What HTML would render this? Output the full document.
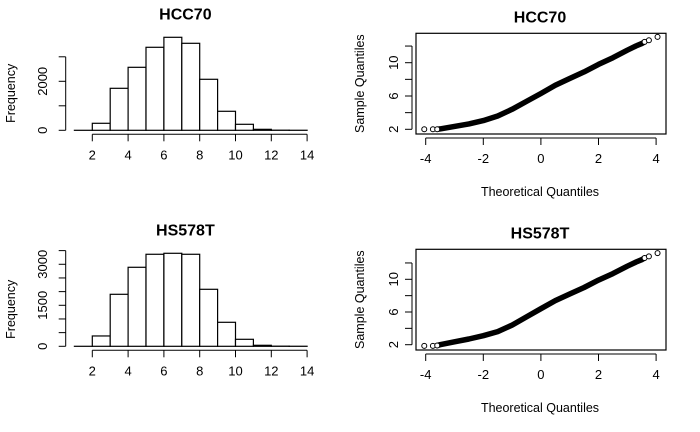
<!DOCTYPE html>
<html><head><meta charset="utf-8"><style>
body{margin:0;background:#fff}
svg{display:block;font-family:"Liberation Sans",Arial,sans-serif}
</style></head><body>
<svg id="c" width="700" height="432" viewBox="0 0 700 432"></svg>
<script>
// ---- data ----
const binEdges = [1,2,3,4,5,6,7,8,9,10,11,12,13,14];
const hccCounts = [0,286,1714,2571,3388,3796,3551,2082,776,245,40,5,2];
const hsCounts = [0,378,1902,2890,3366,3402,3366,2085,878,256,37,5,2];
const histXTicks = [2,4,6,8,10,12,14];
const hccYTicks = [0,1000,2000,3000];
const hccYLabels = [0,2000];
const hsYTicks = [0,500,1000,1500,2000,2500,3000,3500];
const hsYLabels = [0,1500,3000];
const qqTheo = [-4.05,-3.75,-3.6,-3.5,-3.0,-2.5,-2.0,-1.5,-1.0,-0.5,0,0.5,1.0,1.5,2.0,2.5,3.0,3.3,3.5,3.6,3.75,4.05];
const hccSample = [2.0,2.0,2.0,2.05,2.35,2.65,3.05,3.6,4.4,5.35,6.3,7.3,8.1,8.9,9.8,10.6,11.5,12.0,12.3,12.5,12.7,13.1];
const hsSample = [1.85,1.85,1.9,2.0,2.35,2.7,3.1,3.6,4.4,5.4,6.4,7.4,8.2,9.0,9.9,10.7,11.6,12.1,12.4,12.6,12.8,13.2];
const qqXTicks = [-4,-2,0,2,4];
const qqYTicks = [2,4,6,8,10,12];
const qqYLabels = [2,6,10];

const NS="http://www.w3.org/2000/svg";
const svg=document.getElementById('c');
function el(t,a,p){const e=document.createElementNS(NS,t);for(const k in a)e.setAttribute(k,a[k]);(p||svg).appendChild(e);return e;}
function txt(s,a,p){const e=el('text',a,p);e.textContent=s;return e;}

function hist(g,title,counts,yTicks,yLabels,y0,ySlope){
  const X=v=>92.3+(v-2)*17.9;
  const Y=v=>y0-v*ySlope;
  const t=txt(title,{x:X(7.2),y:y0-111,'font-size':16,'font-weight':'bold','text-anchor':'middle'},g);
  
  
  for(let i=0;i<counts.length;i++){
    const h=Math.max(0.01,Y(0)-Y(counts[i]));
    const r=el('rect',{x:X(binEdges[i]),y:Y(0)-h,width:X(binEdges[i+1])-X(binEdges[i]),height:h,fill:'#fff',stroke:'#000','stroke-width':1.2},g);
    
    
  }
  const xa=el('g',{},g);
  
  
  const ay=y0+4;
  el('line',{x1:X(histXTicks[0]),x2:X(histXTicks[histXTicks.length-1]),y1:ay,y2:ay,stroke:'#000'},xa);
  histXTicks.forEach(v=>{el('line',{x1:X(v),x2:X(v),y1:ay,y2:ay+7,stroke:'#000'},xa);
    txt(String(v),{x:X(v),y:ay+25,'font-size':13,'text-anchor':'middle'},xa);});
  const ya=el('g',{},g);
  
  
  const ax=65.7;
  el('line',{x1:ax,x2:ax,y1:Y(yTicks[0]),y2:Y(yTicks[yTicks.length-1]),stroke:'#000'},ya);
  yTicks.forEach(v=>el('line',{x1:ax,x2:ax-7,y1:Y(v),y2:Y(v),stroke:'#000'},ya));
  yLabels.forEach(v=>txt(String(v),{x:0,y:0,'font-size':13,'text-anchor':'middle',transform:`translate(47,${Y(v)}) rotate(-90)`},ya));
  const yl=txt('Frequency',{x:0,y:0,'font-size':12.5,'text-anchor':'middle',transform:`translate(15,${y0-37}) rotate(-90)`},g);
  
  
}

function qq(g,title,sample,top,bot,y2,y10){
  const X=v=>425.7+(v+4)*28.8;
  const sl=(y2-y10)/8;
  const Y=v=>y2-(v-2)*sl;
  const t=txt(title,{x:540,y:top-11,'font-size':16,'font-weight':'bold','text-anchor':'middle'},g);
  
  
  const box=el('rect',{x:416,y:top,width:250,height:bot-top,fill:'none',stroke:'#000','stroke-width':1.2},g);
  
  
  let d='';
  for(let i=2;i<qqTheo.length-2;i++){d+=(i===2?'M':'L')+X(qqTheo[i]).toFixed(1)+','+Y(sample[i]).toFixed(1);}
  const ln=el('path',{d:d,fill:'none',stroke:'#000','stroke-width':5.5,'stroke-linejoin':'round','stroke-linecap':'round'},g);
  
  
  [0,1,2,qqTheo.length-3,qqTheo.length-2,qqTheo.length-1].forEach(i=>{
    const c=el('circle',{cx:X(qqTheo[i]),cy:Y(sample[i]),r:2.5,fill:'#fff',stroke:'#000','stroke-width':1},g);
    
    
  });
  const xa=el('g',{},g);
  
  
  const ay=bot+4;
  el('line',{x1:X(-4),x2:X(4),y1:ay,y2:ay,stroke:'#000'},xa);
  qqXTicks.forEach(v=>{el('line',{x1:X(v),x2:X(v),y1:ay,y2:ay+7,stroke:'#000'},xa);
    txt(String(v),{x:X(v),y:ay+25,'font-size':13,'text-anchor':'middle'},xa);});
  const ya=el('g',{},g);
  
  
  const ax=412;
  el('line',{x1:ax,x2:ax,y1:Y(2),y2:Y(12),stroke:'#000'},ya);
  qqYTicks.forEach(v=>el('line',{x1:ax,x2:ax-7,y1:Y(v),y2:Y(v),stroke:'#000'},ya));
  qqYLabels.forEach(v=>txt(String(v),{x:0,y:0,'font-size':13,'text-anchor':'middle',transform:`translate(398,${Y(v)}) rotate(-90)`},ya));
  const yl=txt('Sample Quantiles',{x:0,y:0,'font-size':12.5,'text-anchor':'middle',transform:`translate(364,${(top+bot)/2}) rotate(-90)`},g);
  
  
  const xl=txt('Theoretical Quantiles',{x:540,y:bot+62,'font-size':12.5,'text-anchor':'middle'},g);
  
  
}

const g1=el('g',{});  
hist(g1,'HCC70',hccCounts,hccYTicks,hccYLabels,130.3,24.5/1000);
const g2=el('g',{});  
hist(g2,'HS578T',hsCounts,hsYTicks,hsYLabels,346.3,13.67/500);
const g3=el('g',{});  
qq(g3,'HCC70',hccSample,33.3,134,129.3,62.7);
const g4=el('g',{});  
qq(g4,'HS578T',hsSample,249.3,350,344.7,279.3);
</script>
</body></html>
